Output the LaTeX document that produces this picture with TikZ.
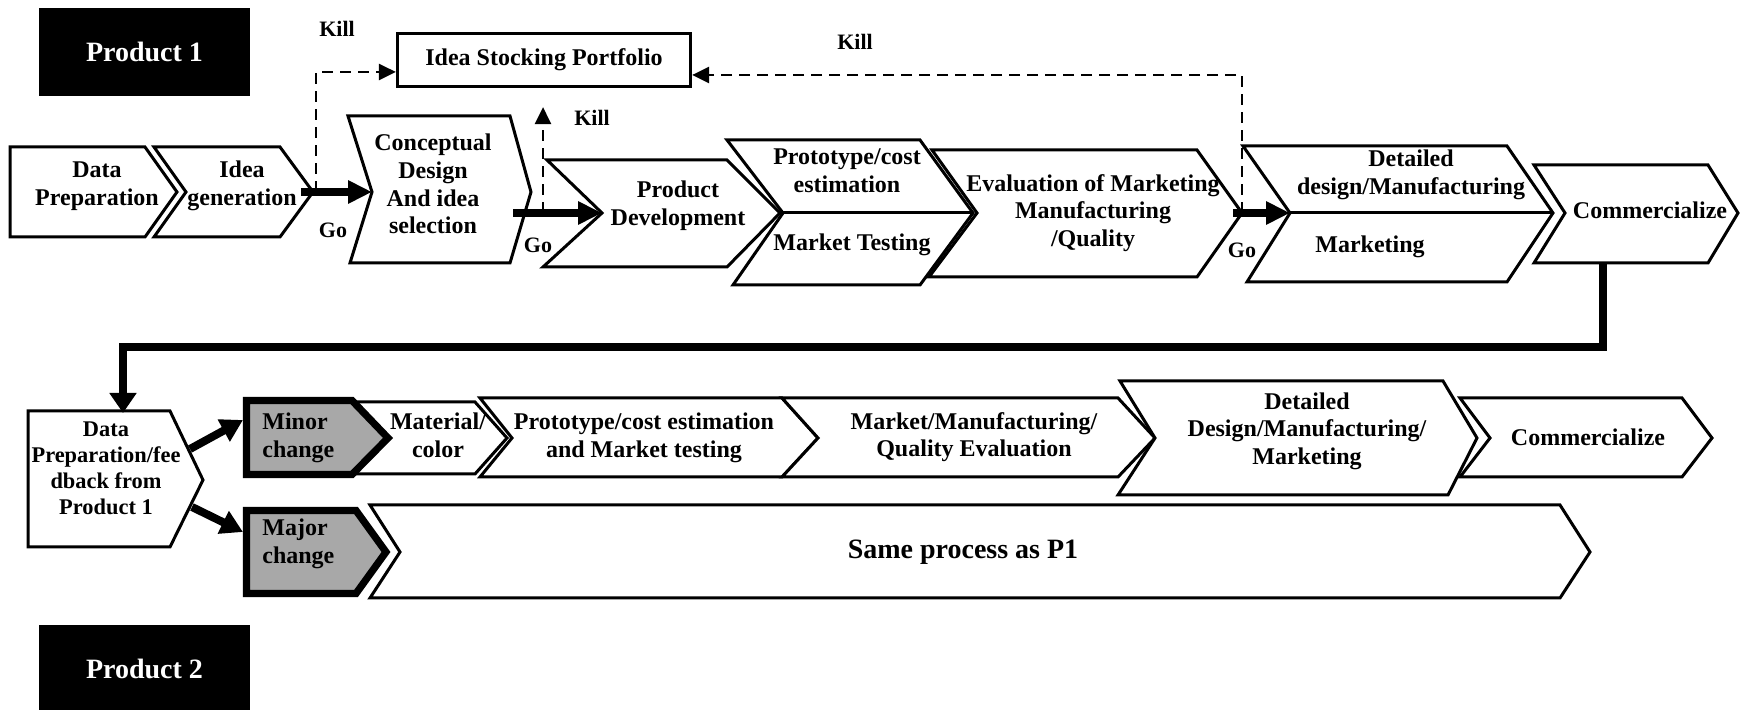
\documentclass[tikz,border=0pt]{standalone}
\usepackage{fontspec}
\setmainfont{Liberation Serif}
\usetikzlibrary{arrows.meta}

\begin{document}
\begin{tikzpicture}[x=0.5pt,y=-0.5pt,
  chev/.style={draw=black, line width=1.5pt, fill=white, line join=miter},
  divider/.style={draw=black, line width=1.5pt},
  changebox/.style={draw=black, line width=3.6pt, fill=black!34, line join=miter},
  txt/.style={font=\bfseries\fontsize{12}{13.8}\selectfont, align=center, inner sep=0pt},
  txtsm/.style={font=\bfseries\fontsize{11.2}{13}\selectfont, align=center, inner sep=0pt},
  lbl/.style={font=\bfseries\fontsize{11}{13}\selectfont, inner sep=0pt},
  title/.style={fill=black, text=white, inner sep=0pt, font=\bfseries\fontsize{14}{16}\selectfont,
    minimum width=105.5pt, minimum height=44pt},
  goarrow/.style={line width=3.6pt, -{Triangle[length=12pt,width=11pt]}},
  killarrow/.style={line width=1.4pt, dash pattern=on 5.5pt off 3.5pt, -{Triangle[length=8.5pt,width=8pt]}},
  fbline/.style={line width=4pt, line join=miter, -{Triangle[length=10pt,width=13pt]}},
  fbarrow/.style={line width=4pt, -{Triangle[length=11pt,width=12pt]}}]

\clip (0,0) rectangle (1740,710);
\fill[white] (0,0) rectangle (1740,710);

% ---------------- Product 1 ----------------
\node[title] (p1) at (144.5,52) {Product 1};
\node[draw=black, line width=1.5pt, minimum width=146.6pt, minimum height=26.6pt, txt] (isp) at (544,60) {Idea Stocking Portfolio};

% data preparation
\draw[chev] (10,147) -- (145,147) -- (177,192) -- (145,237) -- (10,237) -- cycle;
\node[txt] (dp) at (97,186) {Data\\Preparation};

% idea generation
\draw[chev] (154,147) -- (280,147) -- (313,192) -- (280,237) -- (154,237) -- (186,192) -- cycle;
\node[txt] (ig) at (242,186) {Idea\\generation};
\coordinate (ig-tip) at (313,192);

% conceptual design
\draw[chev] (348,116) -- (510,116) -- (531,192) -- (510,263) -- (350,263) -- (372,192) -- cycle;
\node[txt] (cd) at (433,184) {Conceptual\\Design\\And idea\\selection};
\coordinate (cd-in) at (372,192);
\coordinate (cd-out) at (513,213);

% product development
\draw[chev] (547,160) -- (727,160) -- (780,213) -- (727,267) -- (543,267) -- (602,213) -- cycle;
\node[txt] (pd) at (678,206) {Product\\Development};
\coordinate (pd-in) at (602,213);

% prototype / market testing
\draw[chev] (727,140) -- (920,140) -- (973,213) -- (920,285) -- (733,285) -- (783,213) -- cycle;
\coordinate (pm-notch) at (783,213);
\coordinate (pm-tip) at (973,213);
\draw[divider] (pm-notch) -- (pm-tip);
\node[txt] (pc) at (847,171) {Prototype/cost\\estimation};
\node[txt] (mt) at (852,245) {Market Testing};

% evaluation
\draw[chev] (932,150) -- (1197,150) -- (1242,213) -- (1197,277) -- (929,277) -- (977,213) -- cycle;
\node[txt] (ev) at (1093,213) {Evaluation of Marketing\\Manufacturing\\/Quality};
\coordinate (ev-tip) at (1242,213);

% detailed design / marketing
\draw[chev] (1243,146) -- (1507,146) -- (1553,213) -- (1507,282) -- (1247,282) -- (1290,213) -- cycle;
\coordinate (dd-in) at (1290,213);
\coordinate (dd-tip) at (1553,213);
\draw[divider] (dd-in) -- (dd-tip);
\node[txt] (dd) at (1411,175) {Detailed\\design/Manufacturing};
\node[txt] (mk) at (1370,247) {Marketing};

% commercialize
\draw[chev] (1534,165) -- (1708,165) -- (1738,213) -- (1708,263) -- (1534,263) -- (1565,213) -- cycle;
\node[txt] (cm) at (1650,210) {Commercialize};
\coordinate (cm-out) at (1603,263);

% go arrows
\draw[goarrow] ([xshift=-6pt]ig-tip) -- (cd-in);
\draw[goarrow] (cd-out) -- (pd-in);
\draw[goarrow] ([xshift=-4.5pt]ev-tip) -- (dd-in);
\node[lbl] (go1) at (333,230) {Go};
\node[lbl] (go2) at (538,245) {Go};
\node[lbl] (go3) at (1242,250) {Go};

% kill paths to the idea stock
\coordinate (k1) at (316,192);
\coordinate (k2) at (543,213);
\draw[killarrow] (k1) |- ([yshift=-6pt]isp.west);
\draw[killarrow, shorten >=9.5pt] (k2) -- (k2 |- isp.south);
\draw[killarrow] (ev-tip) |- ([yshift=-7.5pt]isp.east);
\node[lbl] (kill1) at (337,29) {Kill};
\node[lbl] (kill2) at (592,118) {Kill};
\node[lbl] (kill3) at (855,42) {Kill};

% ---------------- Product 2 ----------------
\draw[chev] (28,411) -- (170,411) -- (203,480) -- (170,547) -- (28,547) -- cycle;
\node[txtsm] (fb) at (106,468) {Data\\Preparation/fee\\dback from\\Product 1};
\coordinate (fb-in) at (123,413);
\coordinate (fbk) at (123,347);
\coordinate (fb-a) at (190,449);
\coordinate (fb-b) at (192,507);

% feedback from product 1
\draw[fbline] (cm-out) -- (cm-out |- fbk) -- (fbk) -- (fb-in);

% minor change branch
\draw[chev] (353,402) -- (475,402) -- (507,438) -- (475,474) -- (353,474) -- cycle;
\node[txt] (mc) at (438,435) {Material/\\color};
\draw[chev] (480,398) -- (782,398) -- (818,438) -- (782,477) -- (480,477) -- (512,438) -- cycle;
\node[txt] (pt) at (644,438) {Prototype/cost estimation\\and Market testing};
\draw[chev] (782,398) -- (1118,398) -- (1155,438) -- (1118,477) -- (782,477) -- (818,438) -- cycle;
\node[txt] (mq) at (974,437) {Market/Manufacturing/\\Quality Evaluation};
\draw[chev] (1120,381) -- (1443,381) -- (1477,438) -- (1448,495) -- (1118,495) -- (1155,438) -- cycle;
\node[txt] (dm) at (1307,431) {Detailed\\Design/Manufacturing/\\Marketing};
\draw[chev] (1460,398) -- (1682,398) -- (1712,438) -- (1682,477) -- (1460,477) -- (1490,438) -- cycle;
\node[txt] (cm2) at (1588,437) {Commercialize};

\draw[changebox] (246.5,400.5) -- (352,400.5) -- (388,438) -- (352,474.5) -- (246.5,474.5) -- cycle;
\node[txt, align=left, anchor=west] (minor) at (262,438) {Minor\\change};
\coordinate (mi-in) at (243,420);

% major change branch
\draw[chev] (370,505) -- (1560,505) -- (1590,552) -- (1560,598) -- (370,598) -- (400,552) -- cycle;
\node[font=\bfseries\fontsize{14}{16}\selectfont, inner sep=0pt] (same) at (963,552) {Same process as P1};
\draw[changebox] (246.5,510.5) -- (356,510.5) -- (386,552) -- (356,593.5) -- (246.5,593.5) -- cycle;
\node[txt, align=left, anchor=west] (major) at (262,544) {Major\\change};
\coordinate (ma-in) at (243,532);

\draw[fbarrow] (fb-a) -- (mi-in);
\draw[fbarrow] (fb-b) -- (ma-in);

\node[title] (p2) at (144.5,669) {Product 2};
\end{tikzpicture}
\end{document}
